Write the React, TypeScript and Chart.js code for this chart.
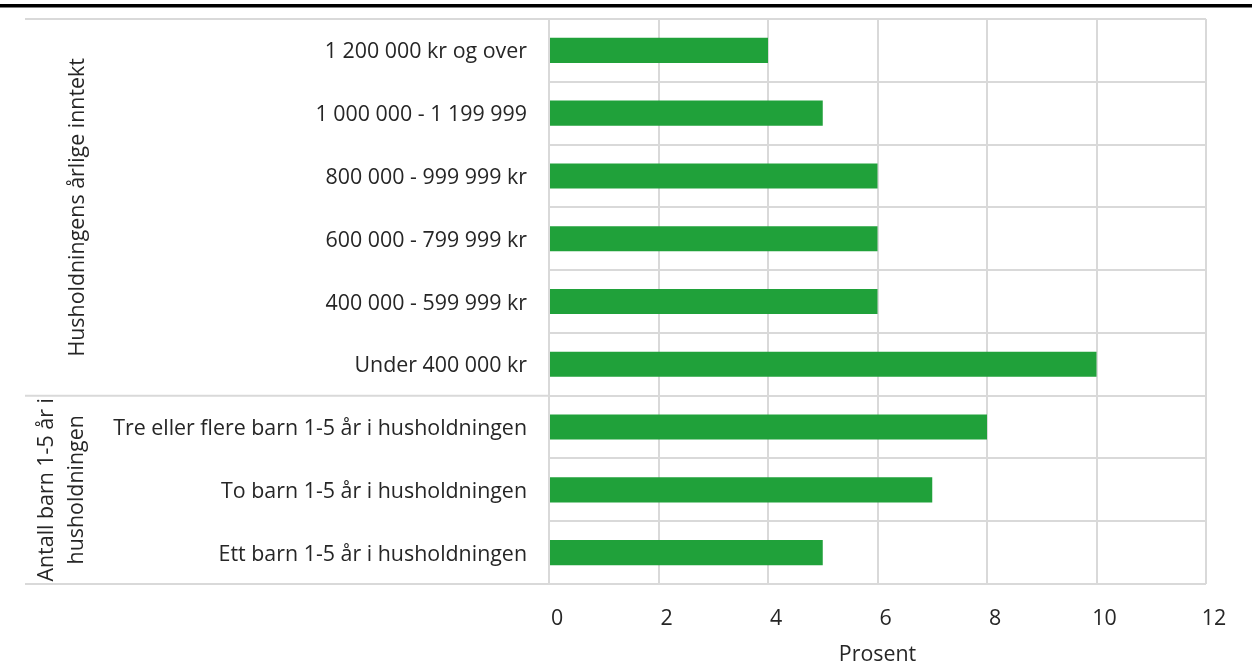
import React, { useEffect, useRef } from "react";
import { Chart, registerables } from "chart.js";

Chart.register(...registerables);

const categories = [
  "1 200 000 kr og over",
  "1 000 000 - 1 199 999",
  "800 000 - 999 999 kr",
  "600 000 - 799 999 kr",
  "400 000 - 599 999 kr",
  "Under 400 000 kr",
  "Tre eller flere barn 1-5 år i husholdningen",
  "To barn 1-5 år i husholdningen",
  "Ett barn 1-5 år i husholdningen",
];
const values = [4, 5, 6, 6, 6, 10, 8, 7, 5];
const groupLabels = [["Husholdningens årlige inntekt"], ["Antall barn 1-5 år i", "husholdningen"]];
const groupSizes = [6, 3];
const xMin = 0;
const xMax = 12;
const xStep = 2;
const xTitle = "Prosent";

const W = 1252;
const H = 671;
const GRID = "#d9d9d9";
const TEXT = "#262626";
const BAR = "#20a13a";
const FONT = "'Open Sans', sans-serif";
const FS = 21.4;

export default function App() {
  const ref = useRef<HTMLCanvasElement | null>(null);
  useEffect(() => {
    document.body.style.margin = "0";
    const canvas = ref.current!;
    const groupPlugin = {
      id: "groups",
      afterDraw(chart: any) {
        const ctx = chart.ctx;
        const ca = chart.chartArea;
        const ys = chart.scales.y;
        const rowH = (ca.bottom - ca.top) / categories.length;
        ctx.save();
        // top black rule
        ctx.fillStyle = "#000";
        ctx.fillRect(0, 4, W, 3.5);
        // extended group lines
        ctx.strokeStyle = GRID;
        ctx.lineWidth = 2;
        const left = 25;
        let idx = 0;
        const bounds: number[] = [ca.top];
        groupSizes.forEach((n) => {
          idx += n;
          bounds.push(ys.getPixelForValue(idx - 1) + rowH / 2);
        });
        bounds.forEach((y) => {
          ctx.beginPath();
          ctx.moveTo(left, y);
          ctx.lineTo(ca.left, y);
          ctx.stroke();
        });
        // group labels
        ctx.fillStyle = TEXT;
        ctx.font = `${FS}px ${FONT}`;
        ctx.textAlign = "center";
        ctx.textBaseline = "middle";
        const lineXs = [[78], [47, 77]];
        for (let g = 0; g < groupSizes.length; g++) {
          const cy = (bounds[g] + bounds[g + 1]) / 2;
          groupLabels[g].forEach((t, i) => {
            ctx.save();
            ctx.translate(lineXs[g][i], cy);
            ctx.rotate(-Math.PI / 2);
            ctx.fillText(t, 0, 0);
            ctx.restore();
          });
        }
        ctx.restore();
      },
    };
    const chart = new Chart(canvas, {
      type: "bar",
      data: {
        labels: categories,
        datasets: [
          {
            data: values,
            backgroundColor: BAR,
            barPercentage: 0.4,
            categoryPercentage: 1,
          },
        ],
      },
      options: {
        indexAxis: "y",
        animation: false,
        responsive: false,
        maintainAspectRatio: false,
        layout: { padding: { top: 19, right: 46, left: 0, bottom: 0 } },
        plugins: { legend: { display: false }, tooltip: { enabled: false } },
        scales: {
          x: {
            min: xMin,
            max: xMax,
            ticks: { stepSize: xStep, padding: 22, labelOffset: 8, color: TEXT, font: { family: FONT, size: FS } },
            grid: { color: GRID, lineWidth: 2, drawTicks: false },
            border: { display: false },
            title: {
              display: true,
              text: xTitle,
              color: TEXT,
              font: { family: FONT, size: FS },
              padding: { top: 8, bottom: 3 },
            },
            afterFit: (s: any) => {
              s.height = 87;
            },
          },
          y: {
            ticks: { padding: 22, labelOffset: 2, color: TEXT, font: { family: FONT, size: FS } },
            grid: { color: GRID, lineWidth: 2, drawTicks: false, offset: true },
            border: { display: false },
            afterFit: (s: any) => {
              s.width = 549;
              s.paddingTop = 0;
              s.paddingBottom = 0;
            },
          },
        },
      },
      plugins: [groupPlugin],
    } as any);
    return () => chart.destroy();
  }, []);
  return (
    <div style={{ width: W, height: H }}>
      <canvas ref={ref} width={W} height={H} style={{ display: "block", width: W, height: H }} />
    </div>
  );
}
